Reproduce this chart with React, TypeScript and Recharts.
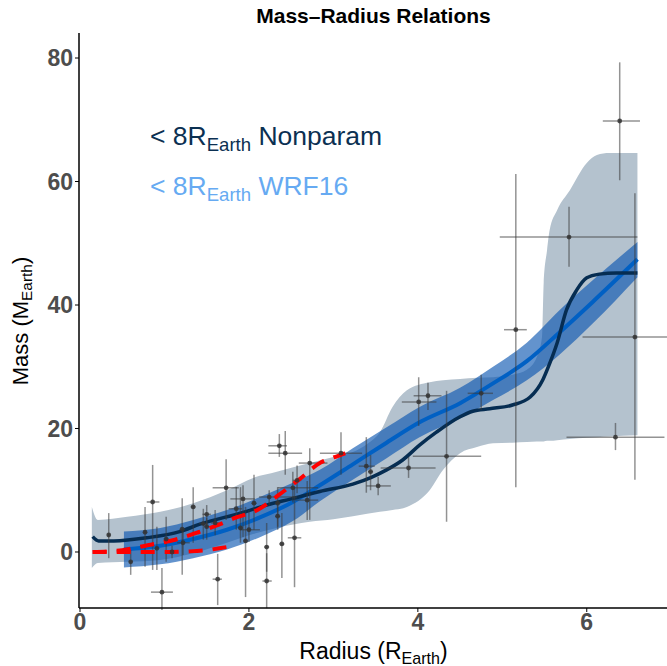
import React from 'react';
import { ComposedChart, Area, Line, Scatter, ErrorBar, XAxis, YAxis } from 'recharts';

// nonparametric fit (< 8 R_Earth)
const nonparamX = [0.15, 0.22, 0.4, 0.79, 1.18, 1.42, 1.93, 2.21, 2.5, 2.84, 3.23, 3.45, 3.63, 3.82, 4.02, 4.22, 4.5, 4.65, 4.85, 5.12, 5.33, 5.48, 5.56, 5.65, 5.76, 5.88, 6.0, 6.15, 6.35, 6.6];
const nonparamY = [2.5, 1.8, 1.8, 2.3, 3.3, 4.5, 6.4, 7.6, 8.6, 9.8, 11.0, 12.1, 13.3, 14.9, 17.3, 19.4, 21.9, 22.8, 23.2, 23.8, 25.1, 27.9, 30.5, 33.9, 39.2, 42.4, 44.4, 45.0, 45.2, 45.2];

// nonparametric confidence band
const bandX = [0.14, 0.21, 0.56, 0.95, 1.34, 1.74, 2.05, 2.33, 2.72, 3.0, 3.23, 3.4, 3.55, 3.7, 3.87, 4.14, 4.3, 4.5, 4.7, 4.89, 5.12, 5.29, 5.41, 5.47, 5.49, 5.53, 5.56, 5.65, 5.8, 6.0, 6.12, 6.27, 6.6];
const bandHi = [7.3, 5.2, 5.7, 6.5, 7.9, 10.0, 12.0, 13.0, 14.4, 15.4, 16.2, 17.5, 19.4, 23.5, 26.2, 27.5, 27.8, 28.0, 28.2, 28.3, 28.7, 29.5, 31.6, 34.8, 43.6, 48.9, 52.1, 55.4, 58.6, 63.0, 64.3, 64.6, 64.6];
const bandLo = [-2.6, -1.8, -1.6, -1.3, -0.2, 1.5, 2.9, 3.9, 4.9, 5.3, 5.8, 6.2, 6.5, 6.8, 7.3, 10.0, 13.3, 16.0, 17.0, 17.6, 17.7, 17.8, 17.9, 17.9, 17.9, 18.0, 18.0, 18.1, 18.3, 18.5, 18.6, 18.7, 18.9];

// WRF16 relation
const wrfX = [0.52, 0.95, 1.34, 1.74, 2.13, 2.52, 2.84, 3.23, 3.63, 4.02, 4.5, 4.89, 5.29, 5.68, 6.07, 6.6];
const wrfHi = [3.3, 3.9, 5.2, 6.8, 8.9, 11.2, 13.3, 16.8, 20.2, 23.5, 26.6, 30.0, 33.9, 39.2, 44.0, 50.2];
const wrfLo = [-2.5, -2.0, -1.0, 0.4, 2.4, 5.0, 8.2, 11.7, 15.2, 18.6, 21.6, 24.6, 27.8, 32.0, 37.0, 44.5];
const wrfMid = [0.4, 1.0, 2.1, 3.6, 5.6, 8.1, 10.8, 14.2, 17.7, 21.0, 24.1, 27.3, 30.9, 35.6, 40.5, 47.4];

// red dashed bounds
const redUpX = [0.15, 0.5, 0.8, 1.1, 1.4, 1.62, 1.85, 2.1, 2.35, 2.6, 2.85, 3.0, 3.14];
const redUpY = [0, 0.3, 1.1, 1.9, 3.2, 4.3, 5.6, 6.8, 9.2, 11.8, 14.5, 15.3, 16.0];
const redLoX = [0.15, 0.6, 1.0, 1.3, 1.5, 1.65, 1.78];
const redLoY = [0, 0, 0, 0.1, 0.3, 0.6, 0.9];

// observed planets
const obsR = [0.34, 0.6, 0.77, 0.86, 0.91, 0.97, 1.02, 1.09, 1.21, 1.22, 1.34, 1.46, 1.5, 1.5, 1.6, 1.63, 1.73, 1.85, 1.9, 1.93, 1.96, 2.0, 2.06, 2.21, 2.21, 2.24, 2.34, 2.36, 2.43, 2.34, 2.39, 2.54, 2.52, 2.57, 2.69, 2.72, 3.09, 3.39, 3.44, 3.53, 3.89, 4.01, 4.12, 4.34, 4.75, 5.16, 5.79, 6.57, 6.34, 6.39];
const obsM = [2.75, -1.6, 3.2, 8.1, 0.6, -6.5, 2.1, 0, 3.7, 1.5, 7.3, 4.6, 6.1, 4.1, 4.7, -4.4, 10.4, 7.0, 3.9, 8.6, 1.8, 3.6, 7.9, 0.8, -4.7, 8.9, 7.9, 17.2, 16.0, 5.8, 1.3, 2.3, 10.4, 11.6, 8.4, 14.4, 16.0, 13.9, 13.0, 10.7, 13.6, 24.3, 25.3, 15.5, 25.7, 36.0, 51.0, 34.8, 18.6, 69.8];
const obsRLo = [0.32, 0.58, 0.75, 0.79, 0.89, 0.84, 0.99, 1.06, 1.18, 1.15, 1.31, 1.41, 1.45, 1.47, 1.55, 1.57, 1.57, 1.76, 1.87, 1.78, 1.93, 1.89, 2.03, 2.18, 2.16, 2.12, 2.31, 2.23, 2.23, 2.31, 2.36, 2.46, 2.34, 2.52, 2.55, 2.59, 2.84, 3.3, 3.41, 3.39, 3.56, 3.81, 3.95, 3.94, 4.59, 5.02, 4.97, 5.95, 5.76, 6.19];
const obsRHi = [0.36, 0.62, 0.79, 0.94, 0.93, 1.1, 1.05, 1.12, 1.24, 1.3, 1.37, 1.51, 1.55, 1.53, 1.65, 1.68, 1.88, 1.92, 1.93, 2.07, 1.99, 2.13, 2.09, 2.24, 2.27, 2.57, 2.37, 2.45, 2.63, 2.37, 2.42, 2.62, 2.82, 2.62, 2.82, 2.93, 3.34, 3.49, 3.47, 3.68, 4.21, 4.22, 4.28, 4.75, 4.89, 5.29, 6.6, 6.95, 6.92, 6.63];
const obsMLo = [-1.0, -3.7, -2.4, -2.9, -2.9, -9.4, -1.6, -1.0, -3.7, -0.5, 1.5, 2.0, 4.0, 2.0, 2.7, -8.6, 5.2, 3.6, 1.5, 2.4, -7.3, 1.6, 3.6, -3.2, -9.1, 7.5, 4.1, 15.4, 12.5, 3.6, -4.2, -5.7, 8.0, 9.5, 5.2, 5.2, 12.5, 9.6, 10.0, 9.2, 12.0, 20.4, 23.0, 4.9, 23.0, 10.5, 46.2, 11.7, 16.5, 60.2];
const obsMHi = [6.3, 0.3, 7.3, 14.1, 4.1, -2.6, 5.7, 1.0, 8.7, 3.5, 10.5, 7.0, 7.6, 5.5, 6.8, -0.3, 15.0, 10.5, 10.5, 10.8, 7.3, 6.8, 12.5, 4.7, -0.2, 10.0, 10.5, 19.1, 19.6, 8.4, 6.3, 10.5, 13.0, 14.0, 11.5, 16.8, 19.4, 18.6, 15.7, 12.2, 15.4, 28.3, 27.4, 26.1, 28.7, 61.2, 55.9, 58.1, 20.9, 79.3];

const xTicks = [0, 2, 4, 6];
const yTicks = [0, 20, 40, 60, 80];

const nonparamData = nonparamX.map((x, i) => ({ x, y: nonparamY[i] }));
const bandData = bandX.map((x, i) => ({ x, range: [bandLo[i], bandHi[i]] }));
const wrfBandData = wrfX.map((x, i) => ({ x, range: [wrfLo[i], wrfHi[i]] }));
const wrfLineData = wrfX.map((x, i) => ({ x, y: wrfMid[i] }));
const redUpData = redUpX.map((x, i) => ({ x, y: redUpY[i] }));
const redLoData = redLoX.map((x, i) => ({ x, y: redLoY[i] }));
const pointData = obsR.map((x, i) => ({
  x,
  y: obsM[i],
  ex: [x - obsRLo[i], obsRHi[i] - x],
  ey: [obsM[i] - obsMLo[i], obsMHi[i] - obsM[i]],
}));

const FONT = '"Liberation Sans", Arial, Helvetica, sans-serif';
const tickStyle = { fill: '#4d4d4d', fontSize: 23, fontWeight: 700, fontFamily: FONT };

const Dot = (props: any) => <circle cx={props.cx} cy={props.cy} r={2.4} fill="#333" fillOpacity={0.85} />;

const subStyle: React.CSSProperties = { fontSize: '70%', verticalAlign: '-0.3em' };

export default function App() {
  return (
    <div style={{ position: 'relative', width: 667, height: 666, fontFamily: FONT, background: '#fff' }}>
      <style>{`body { margin: 0; }`}</style>
      <ComposedChart width={667} height={666} margin={{ top: 33, right: 0, bottom: 0, left: 0 }}>
        <XAxis
          type="number"
          dataKey="x"
          domain={[-0.012, 6.95]}
          ticks={xTicks}
          allowDataOverflow
          height={58}
          tick={tickStyle}
          tickSize={4}
          axisLine={{ stroke: '#000', strokeWidth: 1.5 }}
          tickLine={{ stroke: '#000' }}
        />
        <YAxis
          type="number"
          dataKey="y"
          domain={[-9.07, 84.05]}
          ticks={yTicks}
          allowDataOverflow
          width={79}
          tick={tickStyle}
          tickSize={4}
          axisLine={{ stroke: '#000', strokeWidth: 1.5 }}
          tickLine={{ stroke: '#000' }}
        />
        <Area data={bandData} dataKey="range" type="monotone" stroke="none" fill="#b4c2ce" fillOpacity={1} isAnimationActive={false} />
        <Area data={wrfBandData} dataKey="range" type="monotone" stroke="none" fill="#0854b0" fillOpacity={0.63} isAnimationActive={false} />
        <Line data={wrfLineData} dataKey="y" type="monotone" stroke="#0060c4" strokeWidth={4} dot={false} isAnimationActive={false} />
        <Line data={nonparamData} dataKey="y" type="monotone" stroke="#062d52" strokeWidth={3.5} dot={false} isAnimationActive={false} />
        <Scatter data={pointData} dataKey="y" shape={Dot} isAnimationActive={false}>
          <ErrorBar dataKey="ex" direction="x" width={0} stroke="#3a3a3a" strokeOpacity={0.55} strokeWidth={1.5} />
          <ErrorBar dataKey="ey" direction="y" width={0} stroke="#3a3a3a" strokeOpacity={0.55} strokeWidth={1.5} />
        </Scatter>
        <Line data={redUpData} dataKey="y" type="monotone" stroke="#ff0000" strokeWidth={4} strokeDasharray="14 10" dot={false} isAnimationActive={false} />
        <Line data={redLoData} dataKey="y" type="monotone" stroke="#ff0000" strokeWidth={4} strokeDasharray="14 10" dot={false} isAnimationActive={false} />
      </ComposedChart>

      <div style={{ position: 'absolute', top: 4, left: 80, width: 587, textAlign: 'center', fontWeight: 700, fontSize: 21, color: '#000' }}>
        Mass–Radius Relations
      </div>
      <div style={{ position: 'absolute', top: 121, left: 150, fontSize: 26.5, color: '#0b3052', whiteSpace: 'nowrap' }}>
        &lt; 8R<span style={subStyle}>Earth</span> Nonparam
      </div>
      <div style={{ position: 'absolute', top: 171, left: 150, fontSize: 26.5, color: '#66aaf2', whiteSpace: 'nowrap' }}>
        &lt; 8R<span style={subStyle}>Earth</span> WRF16
      </div>
      <div style={{ position: 'absolute', top: 638, left: 80, width: 587, textAlign: 'center', fontSize: 23, color: '#000', whiteSpace: 'nowrap' }}>
        Radius (R<span style={subStyle}>Earth</span>)
      </div>
      <div
        style={{
          position: 'absolute',
          left: 22,
          top: 321,
          transform: 'translate(-50%, -50%) rotate(-90deg)',
          fontSize: 22,
          color: '#000',
          whiteSpace: 'nowrap',
        }}
      >
        Mass (M<span style={subStyle}>Earth</span>)
      </div>
    </div>
  );
}
